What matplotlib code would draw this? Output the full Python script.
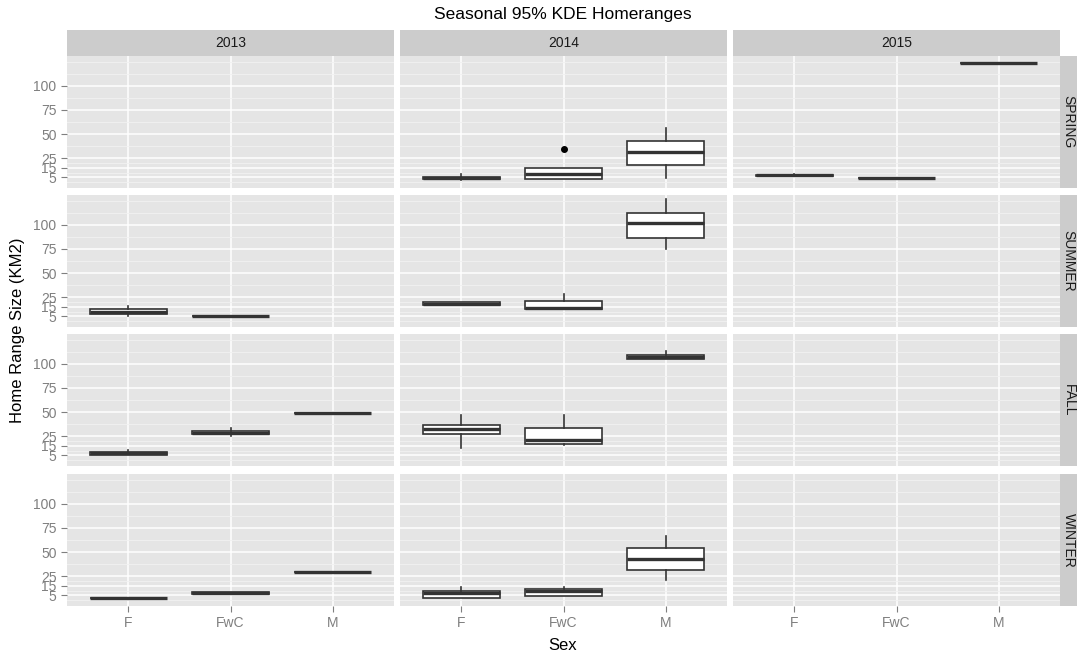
# Boxplots facetados (temporada x año) al estilo ggplot2
import matplotlib.pyplot as plt

plt.rcParams['font.family'] = ['Liberation Sans', 'DejaVu Sans']

years = ['2013', '2014', '2015']
seasons = ['SPRING', 'SUMMER', 'FALL', 'WINTER']
sexes = ['F', 'FwC', 'M']
y_ticks = [5, 15, 25, 50, 75, 100]
y_minor = [0, 10, 20, 37.5, 62.5, 87.5, 112.5, 125]

# Estadísticos de cada caja
box_year = ['2014', '2014', '2014', '2015', '2015', '2015',
            '2013', '2013', '2014', '2014', '2014',
            '2013', '2013', '2013', '2014', '2014', '2014',
            '2013', '2013', '2013', '2014', '2014', '2014']
box_season = ['SPRING'] * 6 + ['SUMMER'] * 5 + ['FALL'] * 6 + ['WINTER'] * 6
box_sex = ['F', 'FwC', 'M', 'F', 'FwC', 'M',
           'F', 'FwC', 'F', 'FwC', 'M',
           'F', 'FwC', 'M', 'F', 'FwC', 'M',
           'F', 'FwC', 'M', 'F', 'FwC', 'M']
whis_lo = [2.5, 3.4, 4.8, 6.5, 4.5, 123.4,
           5.2, 5.0, 17.0, 13.0, 74.9,
           5.1, 25.0, 49.1, 13.0, 15.5, 105.2,
           2.5, 6.2, 29.6, 2.8, 4.5, 21.0]
q1 = [3.0, 3.4, 17.5, 6.5, 4.5, 123.4,
      7.2, 5.0, 17.0, 13.0, 86.6,
      5.8, 26.8, 49.1, 26.8, 16.5, 105.2,
      2.5, 6.2, 29.6, 2.8, 4.5, 31.3]
med = [4.0, 8.2, 31.6, 7.3, 4.5, 123.4,
       10.0, 5.3, 18.2, 13.8, 101.6,
       7.0, 28.0, 49.1, 32.3, 20.6, 107.0,
       2.5, 7.5, 29.6, 8.0, 9.7, 43.0]
q3 = [5.0, 14.4, 43.0, 8.0, 4.5, 123.4,
      12.7, 5.6, 19.5, 21.0, 112.7,
      8.6, 29.9, 49.1, 36.4, 33.6, 109.6,
      2.5, 9.0, 29.6, 9.7, 11.3, 54.3]
whis_hi = [8.5, 14.4, 56.7, 9.0, 4.5, 123.4,
           15.8, 5.6, 19.5, 28.5, 126.4,
           10.6, 33.3, 49.1, 47.4, 47.4, 113.4,
           2.5, 9.0, 29.6, 14.1, 14.1, 67.0]
outliers = [[], [34.3], [], [], [], [],
            [], [], [], [], [],
            [], [], [], [], [], [],
            [], [], [], [], [], []]

W, H = 1077, 658
fig = plt.figure(figsize=(W / 100, H / 100), dpi=100)

col_left = [67, 400, 733]
row_top = [56, 195, 334, 474]
pw, ph = 327, 132

def px_axes(x, y, w, h):
    return fig.add_axes([x / W, 1 - (y + h) / H, w / W, h / H])

for r, season in enumerate(seasons):
    for c, year in enumerate(years):
        ax = px_axes(col_left[c], row_top[r], pw, ph)
        ax.set_facecolor('#E5E5E5')
        for s in ax.spines.values():
            s.set_visible(False)
        ax.set_xlim(0.4, 3.6)
        ax.set_ylim(-6, 131)
        ax.set_yticks(y_ticks)
        ax.set_yticks(y_minor, minor=True)
        ax.set_xticks([1, 2, 3])
        ax.grid(which='major', color='white', linewidth=1.1)
        ax.grid(which='minor', axis='y', color='#F2F2F2', linewidth=0.6)
        ax.set_axisbelow(True)
        ax.tick_params(which='minor', length=0)
        ax.tick_params(which='major', color='#7F7F7F', length=4, width=0.8,
                       labelcolor='#7F7F7F', labelsize=10)
        if c == 0:
            ax.set_yticklabels([str(v) for v in y_ticks])
        else:
            ax.tick_params(axis='y', length=0, labelleft=False)
        if r == len(seasons) - 1:
            ax.set_xticklabels(sexes)
        else:
            ax.tick_params(axis='x', length=0, labelbottom=False)

        stats, pos = [], []
        for i in range(len(box_year)):
            if box_year[i] == year and box_season[i] == season:
                stats.append(dict(whislo=whis_lo[i], q1=q1[i], med=med[i],
                                  q3=q3[i], whishi=whis_hi[i], fliers=outliers[i]))
                pos.append(sexes.index(box_sex[i]) + 1)
        if stats:
            ax.bxp(stats, positions=pos, widths=0.75, patch_artist=True,
                   showcaps=False, manage_ticks=False,
                   boxprops=dict(facecolor='white', edgecolor='#333333', linewidth=1.2),
                   medianprops=dict(color='#333333', linewidth=2.4),
                   whiskerprops=dict(color='#333333', linewidth=1.2),
                   flierprops=dict(marker='o', markerfacecolor='black',
                                   markeredgecolor='black', markersize=4))

        # tira superior con el año
        if r == 0:
            st = px_axes(col_left[c], 30, pw, 26)
            st.set_facecolor('#CCCCCC')
            st.set_xticks([]); st.set_yticks([])
            for s in st.spines.values():
                s.set_visible(False)
            st.text(0.5, 0.5, year, ha='center', va='center', fontsize=10,
                    color='#1A1A1A', transform=st.transAxes)

    # tira derecha con la temporada
    st = px_axes(1060, row_top[r], 17, ph)
    st.set_facecolor('#CCCCCC')
    st.set_xticks([]); st.set_yticks([])
    for s in st.spines.values():
        s.set_visible(False)
    st.text(0.5, 0.5, season, ha='center', va='center', rotation=-90,
            fontsize=10, color='#1A1A1A', transform=st.transAxes)

fig.text(563 / W, 1 - 15 / H, 'Seasonal 95% KDE Homeranges', ha='center',
         va='center', fontsize=12.5)
fig.text(563 / W, 1 - 645 / H, 'Sex', ha='center', va='center', fontsize=12)
fig.text(18 / W, 1 - 330 / H, 'Home Range Size (KM2)', ha='center',
         va='center', rotation=90, fontsize=12)

fig.savefig('out.png', dpi=100)
